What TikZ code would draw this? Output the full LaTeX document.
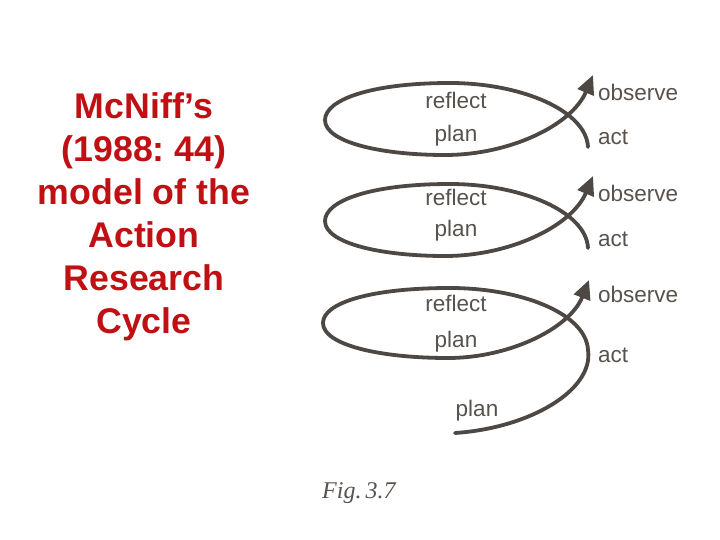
\documentclass[tikz,border=0pt]{standalone}
\usepackage{fontspec}
\setmainfont{Liberation Sans}
\newfontfamily\figfont{Liberation Serif}
\usetikzlibrary{arrows.meta}
\frenchspacing
\definecolor{titlered}{RGB}{192,16,20}
\definecolor{ink}{RGB}{78,72,68}
\definecolor{labelgray}{RGB}{88,82,78}
\tikzset{
  loopline/.style={draw=ink, line width=3.8pt, line cap=round},
  looparrow/.style={loopline, -{Triangle[length=19pt,width=17pt]}},
  lbl/.style={text=labelgray, font=\fontsize{22.5}{26}\selectfont, inner sep=0pt},
}
\begin{document}
\begin{tikzpicture}[x=1pt,y=-1pt]
\useasboundingbox (0,0) rectangle (720,540);
\fill[white] (0,0) rectangle (720,540);

% title
\node[anchor=north, align=center, inner sep=0pt, text=titlered,
      font=\bfseries\fontsize{35.7}{43}\selectfont] (title) at (144,92)
  {McNiff’s\\(1988: 44)\\model of the\\Action\\Research\\Cycle};

% loops 1 and 2
\foreach \dy in {0,101}{
  \begin{scope}[shift={(0,\dy)}]
    \draw[loopline] (588,147) .. controls (586,110) and (520,83) .. (450,83)
        .. controls (370,83) and (325,100) .. (325,120)
        .. controls (325,142) and (380,155) .. (445,155);
    \draw[looparrow] (445,155) .. controls (510,155) and (572,125) .. (593,75);
  \end{scope}
}
% loop 3 with lead-in
\begin{scope}[shift={(0,203)}]
  \draw[loopline] (455,230) .. controls (530,225) and (594,187) .. (588,147)
      .. controls (586,110) and (520,85) .. (450,85)
      .. controls (370,85) and (323,100) .. (323,120)
      .. controls (323,142) and (380,155) .. (448,155);
  \draw[looparrow] (448,155) .. controls (510,155) and (570,125) .. (589,77);
\end{scope}

% labels
\node[lbl] (r1) at (456,100) {reflect};
\node[lbl] (p1) at (456,136) {plan};
\node[lbl,anchor=west] (o1) at (598,92) {observe};
\node[lbl,anchor=west] (a1) at (598,137) {act};

\node[lbl] (r2) at (456,197) {reflect};
\node[lbl] (p2) at (456,231) {plan};
\node[lbl,anchor=west] (o2) at (598,193) {observe};
\node[lbl,anchor=west] (a2) at (598,239) {act};

\node[lbl] (r3) at (456,303) {reflect};
\node[lbl] (p3) at (456,342) {plan};
\node[lbl,anchor=west] (o3) at (598,294) {observe};
\node[lbl,anchor=west] (a3) at (598,355) {act};
\node[lbl] (p4) at (477,411) {plan};

\node[text=labelgray, inner sep=0pt, anchor=west,
      font=\figfont\itshape\fontsize{24}{28}\selectfont] (fig) at (322,493) {Fig.\,3.7};
\end{tikzpicture}
\end{document}
